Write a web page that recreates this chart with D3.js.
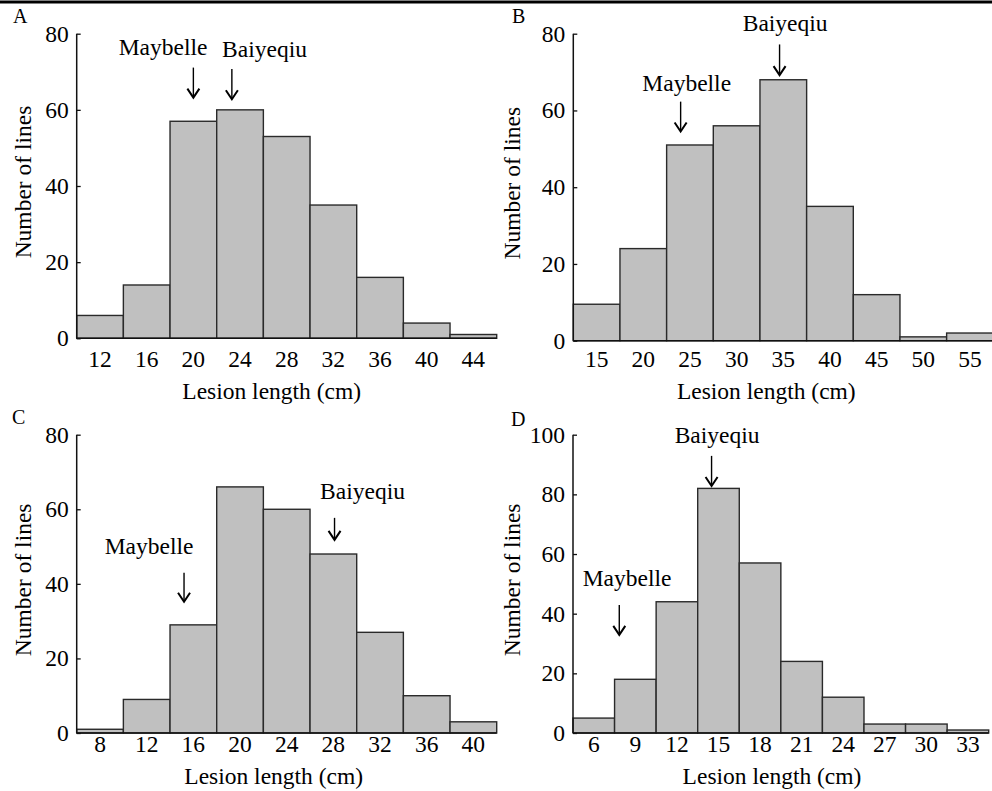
<!DOCTYPE html>
<html>
<head>
<meta charset="utf-8">
<script src="https://cdn.jsdelivr.net/npm/d3@7"></script>
<style>
  body { margin: 0; background: #fff; }
</style>
</head>
<body>
<div id="chart"></div>
<script>
// bin centres (also the tick labels) and counts
const binsA = [12, 16, 20, 24, 28, 32, 36, 40, 44];
const countsA = [6, 14, 57, 60, 53, 35, 16, 4, 1];

const binsB = [15, 20, 25, 30, 35, 40, 45, 50, 55];
const countsB = [9.5, 24, 51, 56, 68, 35, 12, 1, 2];

const binsC = [8, 12, 16, 20, 24, 28, 32, 36, 40];
const countsC = [1, 9, 29, 66, 60, 48, 27, 10, 3];

const binsD = [6, 9, 12, 15, 18, 21, 24, 27, 30, 33];
const countsD = [5, 18, 44, 82, 57, 24, 12, 3, 3, 1];

const yTicksA = [0, 20, 40, 60, 80];
const yTicksD = [0, 20, 40, 60, 80, 100];

// arrows: x, tip and tail in data units, label anchor in data units
const notesA = [
  { label: "Maybelle", x: 20, tip: 63.2, tail: 71.1, lx: 17.4, ly: 74.4 },
  { label: "Baiyeqiu", x: 23.3, tip: 62.8, tail: 70.7, lx: 26.1, ly: 73.9 }
];
const notesB = [
  { label: "Maybelle", x: 24.0, tip: 54.5, tail: 62.3, lx: 24.65, ly: 65.1 },
  { label: "Baiyeqiu", x: 34.6, tip: 69.2, tail: 77.2, lx: 35.2, ly: 80.8 }
];
const notesC = [
  { label: "Maybelle", x: 15.2, tip: 35.2, tail: 43.0, lx: 12.2, ly: 48.0 },
  { label: "Baiyeqiu", x: 28.1, tip: 51.8, tail: 57.7, lx: 30.5, ly: 62.8 }
];
const notesD = [
  { label: "Maybelle", x: 7.84, tip: 32.9, tail: 42.9, lx: 8.4, ly: 49.3 },
  { label: "Baiyeqiu", x: 14.5, tip: 82.8, tail: 92.9, lx: 14.9, ly: 97.1 }
];

const W = 992, H = 791;
const fontSize = 23.5;
const serif = "'Liberation Serif', 'Times New Roman', Times, serif";

const svg = d3.select("#chart").append("svg")
  .attr("width", W)
  .attr("height", H)
  .attr("font-family", serif)
  .style("font-family", serif);

// rule along the top edge
svg.append("line")
  .attr("x1", 0).attr("x2", W)
  .attr("y1", 2).attr("y2", 2)
  .attr("stroke", "#000")
  .attr("stroke-width", 3);

const panels = [
  { letter: "A", bins: binsA, counts: countsA, step: 4, yMax: 80, yTicks: yTicksA, notes: notesA,
    left: 76.7, top: 33.7, bottom: 338.3, width: 420, letterX: 13, letterY: 23, ylabX: 23, xlabX: 195, tickY: 367, xlabY: 399 },
  { letter: "B", bins: binsB, counts: countsB, step: 5, yMax: 80, yTicks: yTicksA, notes: notesB,
    left: 573.3, top: 33.7, bottom: 340.7, width: 420, letterX: 512, letterY: 23, ylabX: 512, xlabX: 193, tickY: 367, xlabY: 399 },
  { letter: "C", bins: binsC, counts: countsC, step: 4, yMax: 80, yTicks: yTicksA, notes: notesC,
    left: 76.7, top: 434.7, bottom: 733, width: 420, letterX: 12, letterY: 424, ylabX: 23, xlabX: 197, tickY: 752, xlabY: 784 },
  { letter: "D", bins: binsD, counts: countsD, step: 3, yMax: 100, yTicks: yTicksD, notes: notesD,
    left: 573, top: 434.7, bottom: 733, width: 415.7, letterX: 511, letterY: 426, ylabX: 512, xlabX: 199, tickY: 752, xlabY: 784 }
];

panels.forEach(p => {
  const half = p.step / 2;
  const x = d3.scaleLinear()
    .domain([p.bins[0] - half, p.bins[p.bins.length - 1] + half])
    .range([p.left, p.left + p.width]);
  const y = d3.scaleLinear()
    .domain([0, p.yMax])
    .range([p.bottom, p.top]);

  const g = svg.append("g");

  // bars
  g.selectAll("rect.bar")
    .data(p.bins.map((b, i) => ({ bin: b, count: p.counts[i] })))
    .enter()
    .append("rect")
    .attr("class", "bar")
    .attr("x", d => x(d.bin - half))
    .attr("width", d => x(d.bin + half) - x(d.bin - half))
    .attr("y", d => y(d.count))
    .attr("height", d => y(0) - y(d.count))
    .attr("fill", "#c0c0c0")
    .attr("stroke", "#2a2a2a")
    .attr("stroke-width", 1.4);

  // y axis, ticks pointing inward
  const yAxis = g.append("g")
    .attr("transform", `translate(${p.left},0)`)
    .call(d3.axisRight(y).tickValues(p.yTicks).tickSize(4).tickFormat(""));
  yAxis.select(".domain").remove();
  yAxis.selectAll(".tick line").attr("stroke", "#111").attr("stroke-width", 1.3);
  g.append("line")
    .attr("x1", p.left).attr("x2", p.left)
    .attr("y1", p.top).attr("y2", p.bottom)
    .attr("stroke", "#111").attr("stroke-width", 1.5);
  g.append("line")
    .attr("x1", p.left).attr("x2", p.left + p.width)
    .attr("y1", p.bottom).attr("y2", p.bottom)
    .attr("stroke", "#111").attr("stroke-width", 1.5);

  g.selectAll("text.ytick")
    .data(p.yTicks)
    .enter()
    .append("text")
    .attr("class", "ytick")
    .attr("x", p.left - 8)
    .attr("y", d => y(d))
    .attr("dy", "0.34em")
    .attr("text-anchor", "end")
    .attr("font-size", fontSize)
    .text(d => d);

  // x tick labels at bin centres
  g.selectAll("text.xtick")
    .data(p.bins)
    .enter()
    .append("text")
    .attr("class", "xtick")
    .attr("x", d => x(d))
    .attr("y", p.tickY)
    .attr("text-anchor", "middle")
    .attr("font-size", fontSize)
    .text(d => d);

  g.append("text")
    .attr("x", p.left + p.xlabX)
    .attr("y", p.xlabY)
    .attr("text-anchor", "middle")
    .attr("font-size", fontSize)
    .text("Lesion length (cm)");

  g.append("text")
    .attr("transform", `translate(${p.ylabX},${(p.top + p.bottom) / 2 - 4}) rotate(-90)`)
    .attr("dy", "0.35em")
    .attr("text-anchor", "middle")
    .attr("font-size", fontSize)
    .text("Number of lines");

  g.append("text")
    .attr("x", p.letterX)
    .attr("y", p.letterY)
    .attr("font-size", 20)
    .text(p.letter);

  // arrows and cultivar labels
  p.notes.forEach(n => {
    const ax = x(n.x), ty = y(n.tip), tl = y(n.tail);
    g.append("line")
      .attr("x1", ax).attr("x2", ax)
      .attr("y1", tl).attr("y2", ty - 1)
      .attr("stroke", "#000").attr("stroke-width", 1.4);
    g.append("path")
      .attr("d", `M${ax - 6},${ty - 9} L${ax},${ty} L${ax + 6},${ty - 9}`)
      .attr("fill", "none")
      .attr("stroke", "#000")
      .attr("stroke-width", 2);
    g.append("text")
      .attr("x", x(n.lx))
      .attr("y", y(n.ly))
      .attr("text-anchor", "middle")
      .attr("font-size", fontSize)
      .text(n.label);
  });
});
</script>
</body>
</html>
